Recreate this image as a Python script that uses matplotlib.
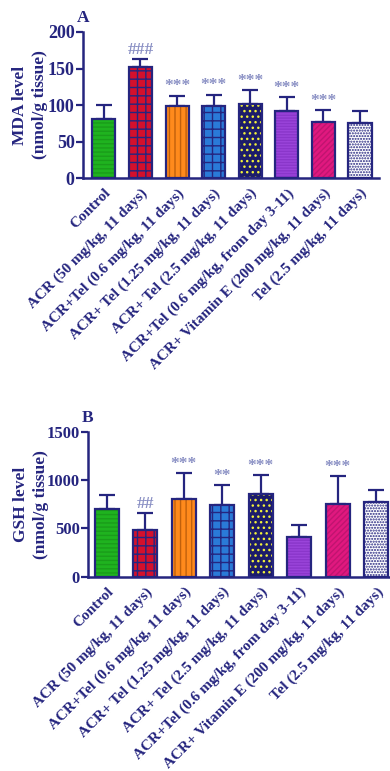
import numpy as np
import matplotlib
matplotlib.use("Agg")
import matplotlib.pyplot as plt

plt.rcParams.update({"font.family": "Liberation Serif", "font.weight": "bold",
                     "font.size": 12, "hatch.linewidth": 1.0})

groups = ["Control", "ACR (50 mg/kg, 11 days)", "ACR+Tel (0.6 mg/kg, 11 days)",
          "ACR+ Tel (1.25 mg/kg, 11 days)", "ACR+ Tel (2.5 mg/kg, 11 days)",
          "ACR+Tel (0.6 mg/kg, from day 3-11)", "ACR+ Vitamin E (200 mg/kg, 11 days)",
          "Tel (2.5 mg/kg, 11 days)"]

mda_mean = [81, 152, 98, 99, 101, 92, 77, 76]
mda_sd = [19, 11, 15, 15, 19, 19, 16, 16]
mda_sig = ["", "###", "***", "***", "***", "***", "***", ""]

gsh_mean = [703, 483, 807, 745, 855, 414, 748, 776]
gsh_sd = [142, 172, 262, 200, 193, 120, 293, 121]
gsh_sig = ["", "##", "***", "**", "***", "", "***", ""]

NAVY = "#25257f"
STAR = "#8a90c4"
faces = ["#1fb31f", "#d4102c", "#ff8a1c", "#2a7ad8", "#1c1c6a", "#9a44da", "#e0187f", "#ffffff"]
hatch_cols = ["#1a9c1a", NAVY, "#c0600c", NAVY, "#f2f23a", "#8a36ca", "#c01470", NAVY]
hatches = ["----", "++", "|||", "++", "...", "------", "//////", "......"]


def panel(ax, mean, sd, sig, ymax, step, ylabel, tag, width, label_x, tick_size):
    x = np.arange(len(mean))
    ax.bar(x, mean, width, color=faces, lw=0, zorder=2)
    ax.bar(x, mean, width, color="none", edgecolor=hatch_cols, hatch=hatches, lw=0, zorder=3)
    ax.bar(x, mean, width, fill=False, edgecolor=NAVY, lw=1.6, zorder=4)
    ax.errorbar(x, mean, yerr=[np.zeros(len(sd)), sd], fmt="none", ecolor=NAVY,
                elinewidth=1.6, capsize=6, capthick=1.6, zorder=1)
    for xi, m, s, t in zip(x, mean, sd, sig):
        if t:
            ax.annotate(t, (xi, m + s), xytext=(0, 1), textcoords="offset points",
                        ha="center", va="bottom", color=STAR, fontsize=12.5)
    ax.set_ylim(0, ymax)
    ax.set_yticks(np.arange(0, ymax + 1, step))
    ax.set_xticks(x)
    ax.set_xticklabels(groups, rotation=45, ha="right", va="top",
                       rotation_mode="anchor", color=NAVY, fontsize=11, fontweight="bold")
    ax.tick_params(axis="x", length=0, pad=6)
    ax.tick_params(axis="y", colors=NAVY, width=1.6, length=5, labelsize=tick_size, pad=1)
    for side in ("top", "right"):
        ax.spines[side].set_visible(False)
    for side in ("left", "bottom"):
        ax.spines[side].set_color(NAVY)
        ax.spines[side].set_linewidth(1.8)
    lab = ax.set_ylabel(ylabel, color=NAVY, fontsize=12.5, fontweight="bold",
                        linespacing=1.35)
    lab.set_va("center")
    ax.yaxis.set_label_coords(label_x, 0.5)
    ax.text(0.0, 1.04, tag, transform=ax.transAxes, color=NAVY, fontsize=12.5,
            fontweight="bold", ha="center", va="bottom")


fig = plt.figure(figsize=(3.9, 7.71), dpi=100)
ax_a = fig.add_axes([0.2128, 0.7691, 0.760, 0.1894])
ax_a.set_xlim(-0.57, 7.53)
panel(ax_a, mda_mean, mda_sd, mda_sig, 200, 50, "MDA level\n(nmol/g tissue)", "A", 0.63,
      -0.18, 13)

ax_b = fig.add_axes([0.2256, 0.2520, 0.7987, 0.1881])
ax_b.set_xlim(-0.49, 7.6)
panel(ax_b, gsh_mean, gsh_sd, gsh_sig, 1500, 500, "GSH level\n(nmol/g tissue)", "B", 0.62,
      -0.183, 12)

fig.savefig("out.png", dpi=100, facecolor="white")
